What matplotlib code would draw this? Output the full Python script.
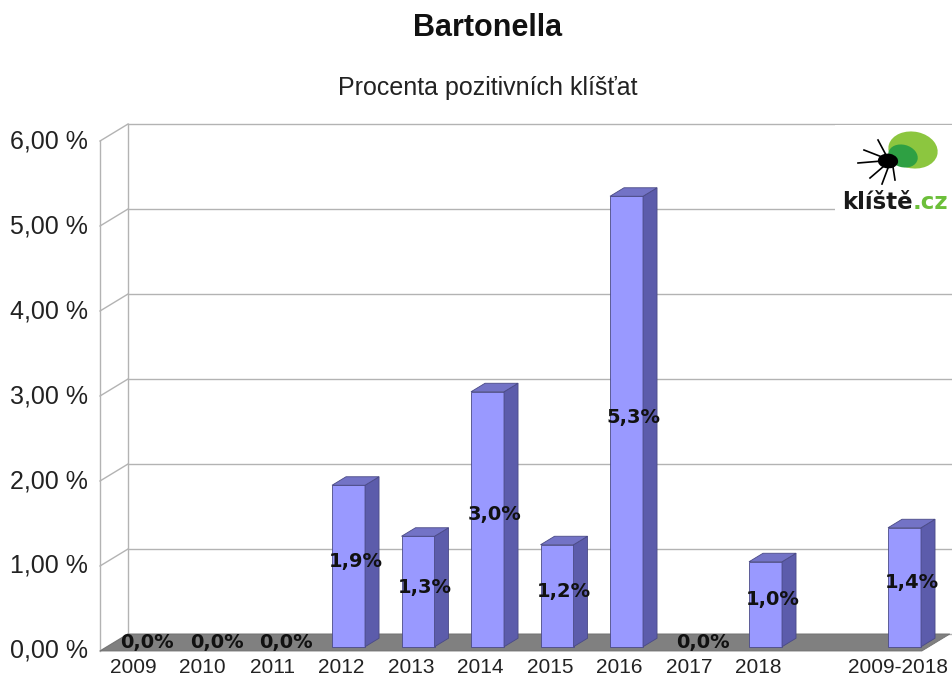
import matplotlib.pyplot as plt
from matplotlib.patches import Polygon, Ellipse

categories = ['2009', '2010', '2011', '2012', '2013', '2014', '2015', '2016', '2017', '2018', '2009-2018']
positions = [0, 1, 2, 3, 4, 5, 6, 7, 8, 9, 11]
values = [0.0, 0.0, 0.0, 1.9, 1.3, 3.0, 1.2, 5.3, 0.0, 1.0, 1.4]
yticks = [0, 1, 2, 3, 4, 5, 6]

title = 'Bartonella'
subtitle = 'Procenta pozitivních klíšťat'

# pseudo-3D geometry (category / value units)
DX, DY = 0.403, 0.2          # full depth offset
D0, D1 = 0.25, 0.75          # bar depth range
BW = 0.475                   # bar width
X_LEFT, X_RIGHT = -0.475, 11.35

front_c = '#9999ff'
side_c = '#5c5cab'
top_c = '#7373c6'
edge_c = '#4a4a86'
grid_c = '#b3b3b3'
floor_c = '#808080'

fig = plt.figure(figsize=(9.52, 6.81), dpi=100)
ax = fig.add_axes([0, 0, 1, 1])
ax.set_xlim(-1.914, 11.784)
ax.set_ylim(-0.353, 7.659)
ax.axis('off')

# walls and grid
for v in yticks:
    ax.plot([X_LEFT, X_LEFT + DX], [v, v + DY], color=grid_c, lw=1, zorder=1)
    ax.plot([X_LEFT + DX, X_RIGHT + DX + 0.1], [v + DY, v + DY], color=grid_c, lw=1, zorder=1)
ax.plot([X_LEFT, X_LEFT], [0, yticks[-1]], color=grid_c, lw=1, zorder=1)
ax.plot([X_LEFT + DX, X_LEFT + DX], [DY, yticks[-1] + DY], color=grid_c, lw=1, zorder=1)

# floor
ax.add_patch(Polygon([(X_LEFT, 0), (X_RIGHT, 0), (X_RIGHT + DX, DY), (X_LEFT + DX, DY)],
                     closed=True, facecolor=floor_c, edgecolor='#707070', lw=0.6, zorder=2))

# y tick labels
for v in yticks:
    ax.text(-0.647, v, f'{v:.2f} %'.replace('.', ','), ha='right', va='center',
            fontsize=18, family='Liberation Sans', color='#222222')

# bars
for x, v, lab in zip(positions, values, categories):
    if v > 0:
        x0 = x - BW / 2 + DX * D0
        x1 = x + BW / 2 + DX * D0
        y0 = DY * D0
        y1 = v + DY * D0
        sx, sy = DX * (D1 - D0), DY * (D1 - D0)
        ax.add_patch(Polygon([(x0, y0), (x1, y0), (x1, y1), (x0, y1)], closed=True,
                             facecolor=front_c, edgecolor=edge_c, lw=0.6, zorder=3))
        ax.add_patch(Polygon([(x1, y0), (x1 + sx, y0 + sy), (x1 + sx, y1 + sy), (x1, y1)], closed=True,
                             facecolor=side_c, edgecolor=edge_c, lw=0.6, zorder=3))
        ax.add_patch(Polygon([(x0, y1), (x1, y1), (x1 + sx, y1 + sy), (x0 + sx, y1 + sy)], closed=True,
                             facecolor=top_c, edgecolor=edge_c, lw=0.6, zorder=3))
    ax.text(x + DX * 0.5, v / 2 + DY * 0.5, f'{v:.1f}%'.replace('.', ','), ha='center', va='center',
            fontsize=14, fontweight='bold', family='DejaVu Sans', color='#111111', zorder=5)
    ax.text(x, -0.19, lab, ha='center', va='center', fontsize=15,
            family='Liberation Sans', color='#222222')

# titles
fig.text(0.512, 1 - 28 / 681, title, ha='center', va='center', fontsize=22,
         fontweight='bold', family='Liberation Sans', color='#111111')
fig.text(0.512, 1 - 88 / 681, subtitle, ha='center', va='center', fontsize=18,
         family='Liberation Sans', color='#222222')

# logo
W, H = 952, 681
fig.patches.append(Polygon([(835 / W, 1 - 125 / H), (952 / W, 1 - 125 / H), (952 / W, 1 - 216 / H),
                            (835 / W, 1 - 216 / H)], closed=True, transform=fig.transFigure,
                           facecolor='white', edgecolor='none', zorder=4))
fig.patches.append(Ellipse((913 / W, 1 - 150 / H), 48 / W, 38 / H, angle=30, transform=fig.transFigure,
                           facecolor='#8cc63f', edgecolor='none', zorder=5))
fig.patches.append(Ellipse((903 / W, 1 - 156 / H), 28 / W, 24 / H, angle=30, transform=fig.transFigure,
                           facecolor='#2ea043', edgecolor='none', zorder=6))
fig.patches.append(Ellipse((888 / W, 1 - 161 / H), 20 / W, 15 / H, angle=30, transform=fig.transFigure,
                           facecolor='black', edgecolor='none', zorder=7))
for (ax0, ay0, ax1, ay1) in [(882, 161, 858, 163), (882, 157, 864, 150), (886, 155, 878, 140),
                             (884, 166, 870, 178), (888, 168, 882, 184), (893, 167, 895, 180)]:
    fig.lines.append(plt.Line2D([ax0 / W, ax1 / W], [1 - ay0 / H, 1 - ay1 / H], transform=fig.transFigure,
                                color='black', lw=1.2, zorder=7))
fig.text(913 / W, 1 - 209 / H, 'klíště', ha='right', va='baseline', fontsize=16.5,
         fontweight='bold', family='DejaVu Sans', color='#1a1a1a', zorder=8)
fig.text(913 / W, 1 - 209 / H, '.cz', ha='left', va='baseline', fontsize=16.5,
         fontweight='bold', family='DejaVu Sans', color='#6cbf3a', zorder=8)

fig.savefig('out.png', dpi=100, facecolor='white')
